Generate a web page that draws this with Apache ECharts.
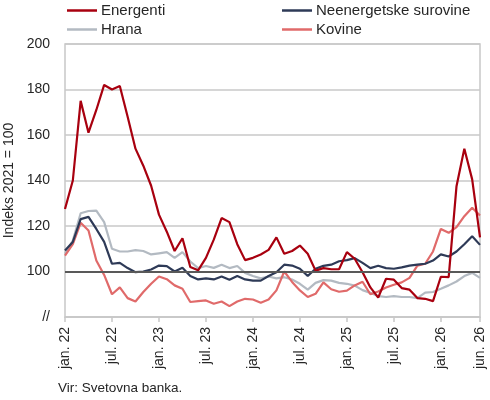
<!DOCTYPE html>
<html>
<head>
    <meta charset="UTF-8">
    <title>Indeksi cen surovin</title>
    <script src="https://cdn.jsdelivr.net/npm/echarts@6.0.0/dist/echarts.min.js" type="text/javascript"></script>
    <style>
        html, body { margin: 0; padding: 0; background: #fff; }
    </style>
</head>
<body>
<div id="chart" style="width:490px;height:400px"></div>
<script type="text/javascript">
    // meseci in leta za kategorije
    var mesec = ['jan.', 'feb.', 'mar.', 'apr.', 'maj', 'jun.', 'jul.', 'avg.', 'sep.', 'okt.', 'nov.', 'dec.'];
    var leta = ['22', '23', '24', '25', '26'];
    var steviloMesecev = 54; // jan. 22 - jun. 26

    var yTicks = [80, 100, 120, 140, 160, 180, 200];

    // indeksi 2021 = 100
    var energenti = [127.5, 140, 175, 161, 171, 182, 180, 181.5, 168, 154, 146.5, 137.7, 125, 117.5,
        109, 114.6, 102, 100.5, 106, 114, 123.5, 121.7, 112, 105, 106, 107.5, 109.5,
        115, 107.8, 109, 111.4, 107.8, 100.4, 101.5, 101, 101, 108.5, 105.6, 99.7, 93,
        88.5, 96.8, 96.4, 92.7, 92, 88.3, 88, 87, 97.7, 97.5, 137.5, 154, 140.5, 115];
    var neenergetske = [109.2, 113, 123, 124, 118.7, 113, 103.4, 103.8, 101.5, 99.7, 100, 100.9, 102.6, 102.4,
        100, 101.6, 98, 96.5, 97, 96.5, 97.8, 96.4, 98, 96.5, 96, 96, 98,
        99.7, 103, 102.6, 101.2, 98, 101.2, 102.5, 103, 104.5, 105, 105.9, 103.8, 101.5,
        102.5, 101.5, 101.2, 101.8, 102.6, 103, 103.4, 104.8, 107.5, 106.6, 108.8, 112, 115.5, 111.7];
    var hrana = [107.8, 113.6, 125.6, 126.6, 126.8, 121.7, 110, 108.8, 108.8, 109.4, 109, 107.5, 108, 108.5,
        106, 108.5, 104.4, 101.5, 102.4, 101.6, 103, 101.5, 102.4, 99.4, 98, 97, 97.8,
        97, 97.5, 96.5, 94.6, 92, 95, 96.2, 96, 95, 94.6, 93.8, 91.8, 90.6,
        89.2, 88.8, 89.2, 88.8, 88.8, 88.3, 90.7, 91, 92.4, 93.9, 95.6, 98, 99.4, 97.2];
    var kovine = [107, 112, 121.4, 118, 104.8, 98.5, 90, 93, 88.3, 86.8, 91, 94.6, 97.8, 96.6,
        93.9, 92.4, 86.6, 87, 87.3, 85.8, 86.8, 84.8, 86.8, 88, 87.7, 86.3, 87.7,
        91.7, 100, 95.4, 91.7, 88.8, 90.2, 95.2, 92.2, 91.1, 91.6, 93.9, 95.5, 90,
        91.2, 93, 94.2, 95.2, 97.2, 102.6, 103.4, 108.8, 118.7, 117, 119.5, 124.3, 128, 124.6];

    var x = [];
    for (var i = 0; i < steviloMesecev; i++) {
        x.push(mesec[i % 12] + ' ' + leta[Math.floor(i / 12)]);
    }

    // prikazane oznake: vsakih 6 mesecev + zadnji mesec
    function showLabel(idx) {
        return idx % 6 === 0 || idx === steviloMesecev - 1;
    }

    var font = 'Liberation Sans';
    var textColor = '#262626';

    var legendBase = {
        top: 3,
        padding: 0,
        orient: 'vertical',
        icon: 'rect',
        itemWidth: 30,
        itemHeight: 2.5,
        itemGap: 4,
        textStyle: { fontFamily: font, fontSize: 15, color: textColor, padding: [0, 0, 0, -1] }
    };

    var myChart = echarts.init(document.getElementById('chart'));

    var option = {
        animation: false,
        textStyle: { fontFamily: font },
        legend: [
            echarts.util.merge({ left: 67, data: ['Energenti', 'Hrana'] }, legendBase),
            echarts.util.merge({ left: 282, data: ['Neenergetske surovine', 'Kovine'] }, legendBase)
        ],
        grid: {
            left: 65,
            right: 10,
            top: 44,
            bottom: 83,
            outerBoundsMode: 'none',
            containLabel: false,
            show: true,
            borderColor: '#c8c8c8',
            borderWidth: 1.5
        },
        xAxis: {
            type: 'category',
            data: x,
            boundaryGap: false,
            axisLine: { lineStyle: { color: '#c8c8c8', width: 1.5 } },
            axisTick: { interval: function (idx) { return showLabel(idx); }, length: 5, lineStyle: { color: '#c8c8c8', width: 1.5 } },
            axisLabel: {
                interval: function (idx) { return showLabel(idx); },
                rotate: 90,
                margin: 10,
                fontFamily: font,
                fontSize: 14,
                color: textColor
            },
            splitLine: { show: false }
        },
        yAxis: {
            type: 'value',
            min: yTicks[0],
            max: yTicks[yTicks.length - 1],
            interval: 20,
            name: 'Indeks 2021 = 100',
            nameLocation: 'middle',
            nameGap: 42,
            nameTextStyle: { fontFamily: font, fontSize: 14, color: textColor },
            axisLine: { show: false },
            axisTick: { show: false },
            axisLabel: {
                margin: 15,
                fontFamily: font,
                fontSize: 14,
                color: textColor,
                formatter: function (v) { return v === yTicks[0] ? '//' : v; }
            },
            splitLine: { lineStyle: { color: '#c8c8c8', width: 1.5 } }
        },
        series: [{
            name: 'Hrana',
            type: 'line',
            data: hrana,
            symbol: 'none',
            color: '#b3bac2',
            lineStyle: { width: 2.2 },
            markLine: {
                silent: true,
                symbol: 'none',
                label: { show: false },
                lineStyle: { color: '#595959', width: 2, type: 'solid' },
                data: [{ yAxis: 100 }]
            }
        }, {
            name: 'Kovine',
            type: 'line',
            data: kovine,
            symbol: 'none',
            color: '#e06a6a',
            lineStyle: { width: 2.2 }
        }, {
            name: 'Neenergetske surovine',
            type: 'line',
            data: neenergetske,
            symbol: 'none',
            color: '#2e3a57',
            lineStyle: { width: 2.2 }
        }, {
            name: 'Energenti',
            type: 'line',
            data: energenti,
            symbol: 'none',
            color: '#a8000f',
            lineStyle: { width: 2.2 }
        }],
        graphic: [{
            type: 'text',
            left: 58,
            top: 381,
            style: { text: 'Vir: Svetovna banka.', font: '13.5px "Liberation Sans"', fill: textColor }
        }]
    };

    myChart.setOption(option);
</script>
</body>
</html>
